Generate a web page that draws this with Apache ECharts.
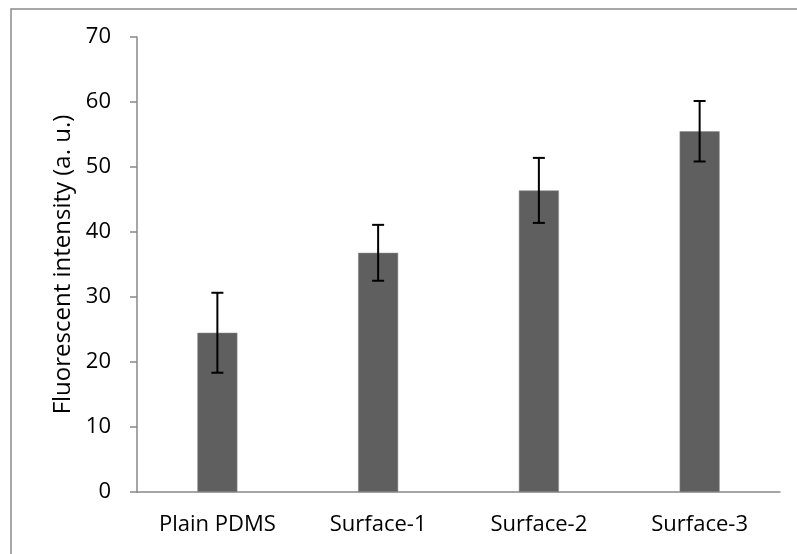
<!DOCTYPE html>
<html>
<head>
<meta charset="utf-8">
<script src="https://cdn.jsdelivr.net/npm/echarts@6/dist/echarts.min.js"></script>
<style>
  html, body { margin: 0; padding: 0; background: #fff; }
  #chart { width: 797px; height: 554px; }
</style>
</head>
<body>
<div id="chart"></div>
<script>
// Fluorescent intensity per surface, mean and standard deviation
const categories = ['Plain PDMS', 'Surface-1', 'Surface-2', 'Surface-3'];
const means = [24.5, 36.8, 46.4, 55.5];
const errors = [6.15, 4.3, 5.0, 4.65];
const yTicks = { min: 0, max: 70, interval: 10 };

const FONT = '"Open Sans"';
const FONT_SIZE = 22;
const chart = echarts.init(document.getElementById('chart'), null, { renderer: 'canvas' });

const errorData = categories.map((c, i) => [i, means[i] - errors[i], means[i] + errors[i]]);

chart.setOption({
  animation: false,
  backgroundColor: '#ffffff',
  graphic: [{
    type: 'rect',
    shape: { x: 11, y: 9, width: 820, height: 580 },
    style: { fill: 'none', stroke: '#8a8a8a', lineWidth: 1.5 },
    z: 100
  }],
  grid: { left: 137, right: 17, top: 37, bottom: 62, containLabel: false },
  xAxis: {
    type: 'category',
    data: categories,
    axisLine: { lineStyle: { color: '#888888', width: 1.5 } },
    axisTick: { show: false },
    axisLabel: { color: '#000', fontFamily: FONT, fontSize: FONT_SIZE, margin: 22 }
  },
  yAxis: {
    type: 'value',
    min: yTicks.min, max: yTicks.max, interval: yTicks.interval,
    name: 'Fluorescent intensity (a. u.)',
    nameLocation: 'middle',
    nameGap: 62,
    nameTextStyle: { color: '#000', fontFamily: FONT, fontSize: 24 },
    axisLine: { show: true, lineStyle: { color: '#888888', width: 1.5 } },
    axisTick: { show: true, length: 7, lineStyle: { color: '#888888', width: 1.5 } },
    splitLine: { show: false },
    axisLabel: { color: '#000', fontFamily: FONT, fontSize: FONT_SIZE, margin: 26 }
  },
  series: [
    {
      type: 'bar',
      data: means,
      barWidth: 40,
      itemStyle: { color: '#5f5f5f', borderColor: '#8a8a8a', borderWidth: 0.5 }
    },
    {
      type: 'custom',
      data: errorData,
      z: 10,
      renderItem: function (params, api) {
        const x = api.value(0);
        const lo = api.coord([x, api.value(1)]);
        const hi = api.coord([x, api.value(2)]);
        const half = 6;
        const style = { stroke: '#000', lineWidth: 2 };
        return {
          type: 'group',
          children: [
            { type: 'line', shape: { x1: hi[0], y1: hi[1], x2: lo[0], y2: lo[1] }, style },
            { type: 'line', shape: { x1: hi[0] - half, y1: hi[1], x2: hi[0] + half, y2: hi[1] }, style },
            { type: 'line', shape: { x1: lo[0] - half, y1: lo[1], x2: lo[0] + half, y2: lo[1] }, style }
          ]
        };
      },
      encode: { x: 0, y: [1, 2] }
    }
  ]
});
</script>
</body>
</html>
